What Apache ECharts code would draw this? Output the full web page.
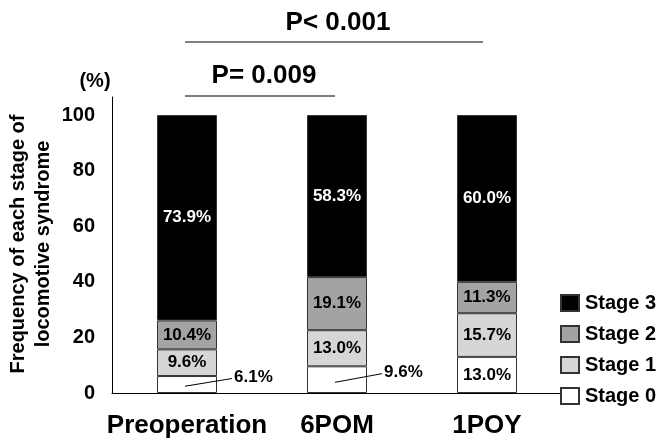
<!DOCTYPE html>
<html>
<head>
<meta charset="utf-8">
<script src="https://cdn.jsdelivr.net/npm/echarts@6/dist/echarts.min.js"></script>
<style>
  html, body { margin: 0; padding: 0; background: #fff; }
  #chart { width: 656px; height: 444px; }
</style>
</head>
<body>
<div id="chart"></div>
<script>
// Follow-up time points
const categories = ['Preoperation', '6POM', '1POY'];

// Share of patients at each locomotive syndrome stage (%)
const stage0 = [6.1, 9.6, 13.0];
const stage1 = [9.6, 13.0, 15.7];
const stage2 = [10.4, 19.1, 11.3];
const stage3 = [73.9, 58.3, 60.0];

// Stage 0 values drawn beside the bar with a leader line
const stage0Outside = [true, true, false];

const yTicks = [0, 20, 40, 60, 80, 100];
const pLabels = ['P< 0.001', 'P= 0.009'];

const FONT = '"Liberation Sans", Arial, Helvetica, sans-serif';
const chart = echarts.init(document.getElementById('chart'), null, { renderer: 'canvas' });

const barBorder = { borderColor: '#333', borderWidth: 1 };
const pct = p => Number(p.value).toFixed(1) + '%';

function makeLabel(color, extra) {
  return Object.assign({
    show: true, position: 'inside', fontFamily: FONT, fontWeight: 700,
    fontSize: 17, color: color, textBorderWidth: 0, formatter: pct
  }, extra || {});
}

function series(name, values, color, labelColor, itemFn) {
  return {
    name, type: 'bar', stack: 'all', barWidth: 60,
    itemStyle: Object.assign({ color }, barBorder),
    label: makeLabel(labelColor),
    data: values.map((v, i) => itemFn ? itemFn(v, i) : v),
    emphasis: { disabled: true }, animation: false
  };
}

const option = {
  animation: false,
  textStyle: { fontFamily: FONT },
  grid: { left: 112, right: 94, top: 97, bottom: 51 },
  legend: {
    orient: 'vertical', left: 555, top: 288,
    itemWidth: 18, itemHeight: 16, itemGap: 11,
    icon: 'rect',
    data: ['Stage 3', 'Stage 2', 'Stage 1', 'Stage 0'],
    textStyle: { fontFamily: FONT, fontWeight: 'bold', fontSize: 20, color: '#000', padding: [0, 0, 0, 1] },
    selectedMode: false
  },
  xAxis: {
    type: 'category', data: categories,
    axisLine: { lineStyle: { color: '#000', width: 1 } },
    axisTick: { show: false },
    axisLabel: { interval: 0, fontFamily: FONT, fontWeight: 'bold', fontSize: 26, color: '#000', margin: 20 }
  },
  yAxis: {
    type: 'value', min: 0, max: 106.5, interval: 20,
    axisLine: { show: true, lineStyle: { color: '#000', width: 1 } },
    axisTick: { show: false },
    splitLine: { show: false },
    axisLabel: {
      fontFamily: FONT, fontWeight: 'bold', fontSize: 20, color: '#000', margin: 17,
      showMaxLabel: false,
      formatter: v => (yTicks.indexOf(v) >= 0 ? String(v) : '')
    }
  },
  series: [
    series('Stage 0', stage0, '#ffffff', '#000', (v, i) => stage0Outside[i]
      ? { value: v, label: makeLabel('#000', { position: 'right', distance: 17, offset: [0, -7] }) }
      : v),
    series('Stage 1', stage1, '#d6d6d6', '#000'),
    series('Stage 2', stage2, '#a3a3a3', '#000'),
    series('Stage 3', stage3, '#000000', '#fff')
  ],
  graphic: [
    // y-axis title and unit
    { type: 'text', id: 'ytitle', x: 31, y: 244, rotation: Math.PI / 2, z: 10,
      style: { text: 'Frequency of each stage of\nlocomotive syndrome', font: 'bold 20px ' + FONT,
               fill: '#000', align: 'center', verticalAlign: 'middle', lineHeight: 25 } },
    { type: 'text', id: 'unit', x: 95, y: 81, z: 10,
      style: { text: '(%)', font: 'bold 20px ' + FONT, fill: '#000', align: 'center', verticalAlign: 'middle' } },
    // significance brackets
    { type: 'line', id: 'pLong', z: 10, shape: { x1: 185, y1: 42, x2: 483, y2: 42 }, style: { stroke: '#000', lineWidth: 1 } },
    { type: 'text', id: 'pLongText', x: 338, y: 23, z: 10,
      style: { text: pLabels[0], font: 'bold 26px ' + FONT, fill: '#000', align: 'center', verticalAlign: 'middle' } },
    { type: 'line', id: 'pShort', z: 10, shape: { x1: 185, y1: 96, x2: 335, y2: 96 }, style: { stroke: '#000', lineWidth: 1 } },
    { type: 'text', id: 'pShortText', x: 264, y: 76, z: 10,
      style: { text: pLabels[1], font: 'bold 26px ' + FONT, fill: '#000', align: 'center', verticalAlign: 'middle' } }
  ]
};

chart.setOption(option);

// Leader lines from the Stage 0 segments to their outside labels
const leaders = [];
stage0.forEach((v, i) => {
  if (!stage0Outside[i]) return;
  const start = chart.convertToPixel({ xAxisIndex: 0, yAxisIndex: 0 }, [i, v * 0.4]);
  const mid = chart.convertToPixel({ xAxisIndex: 0, yAxisIndex: 0 }, [i, v / 2]);
  leaders.push({
    type: 'line', id: 'leader' + i, z: 20,
    shape: { x1: start[0] - 2, y1: start[1], x2: mid[0] + 30 + 15, y2: mid[1] - 6 },
    style: { stroke: '#000', lineWidth: 1 }
  });
});
chart.setOption({ graphic: leaders });
</script>
</body>
</html>
